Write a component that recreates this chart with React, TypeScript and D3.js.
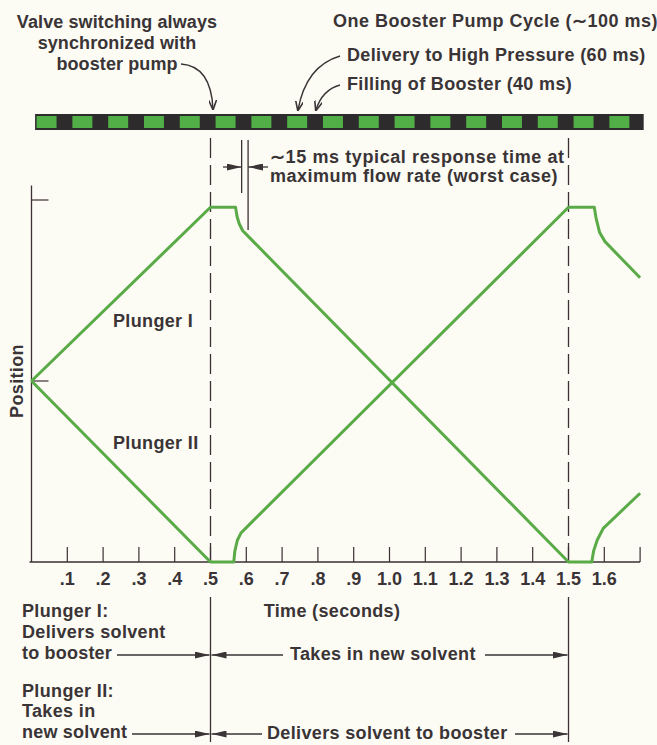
import * as d3 from 'd3'

// Time axis (seconds)
const TIME_TICKS = [0.1, 0.2, 0.3, 0.4, 0.5, 0.6, 0.7, 0.8, 0.9, 1.0, 1.1, 1.2, 1.3, 1.4, 1.5, 1.6, 1.7]
const TICK_LABELS = ['.1', '.2', '.3', '.4', '.5', '.6', '.7', '.8', '.9', '1.0', '1.1', '1.2', '1.3', '1.4', '1.5', '1.6', '']
const POS_TICKS = [0.5, 1.0]

// Plunger positions [time, relative position]
const PLUNGER_I: [number, number][] = [
  [0, 0.5], [0.5, 0.98], [0.57, 0.98], [0.574, 0.955], [0.58, 0.935], [0.59, 0.915], [0.6, 0.905],
  [1.5, 0], [1.565, 0], [1.57, 0.03], [1.58, 0.06], [1.597, 0.093], [1.7, 0.19],
]
const PLUNGER_II: [number, number][] = [
  [0, 0.5], [0.5, 0], [0.565, 0], [0.568, 0.03], [0.575, 0.06], [0.585, 0.08], [0.6, 0.095],
  [1.5, 0.98], [1.572, 0.98], [1.577, 0.95], [1.587, 0.91], [1.602, 0.885], [1.7, 0.785],
]

const VALVE_SWITCH = [0.5, 1.5]
const RESPONSE_MARKS = [0.587, 0.605]

// Booster pump cycle strip
const BAR_START = 0.01
const CYCLE = 0.1
const DELIVERY = 0.06
const N_CYCLES = 17

const W = 657
const H = 745
const INK = '#3a3436'
const AXIS = '#3b2f33'
const GREEN = '#5aab47'
const BAR_GREEN = '#52ae46'
const BAR_DARK = '#2d2b2c'
const FONT = '"Liberation Sans", Arial, Helvetica, sans-serif'

const x = d3.scaleLinear().domain([0, 1.7]).range([31.5, 31.5 + 1.7 * 358])
const y = d3.scaleLinear().domain([0, 1]).range([562, 200])

const line = d3.line<[number, number]>().x(d => x(d[0])).y(d => y(d[1]))

function T({ x: tx, y: ty, children, anchor = 'start', ls = 0.35 }: { x: number; y: number; children: any; anchor?: string; ls?: number }) {
  return (
    <text x={tx} y={ty} textAnchor={anchor as any} fontFamily={FONT} fontWeight={700} fontSize={18}
      letterSpacing={ls} fill={INK}>
      {children}
    </text>
  )
}

export default function App() {
  const bars = d3.range(N_CYCLES).map(i => BAR_START + i * CYCLE)
  const x0 = x(0.5)
  const x1 = x(1.5)
  return (
    <svg width={W} height={H} style={{ position: 'absolute', left: 0, top: 0, background: '#fcfcf5' }}>
      <defs>
        <marker id="ah" viewBox="0 0 15 7" refX={15} refY={3.5} markerWidth={15} markerHeight={7}
          orient="auto" markerUnits="userSpaceOnUse">
          <path d="M0,0 L15,3.5 L0,7 z" fill={INK} />
        </marker>
        <marker id="ahs" viewBox="0 0 10 8" refX={9} refY={4} markerWidth={10} markerHeight={8}
          orient="auto" markerUnits="userSpaceOnUse">
          <path d="M0,0 L10,4 L0,8" fill="none" stroke={INK} strokeWidth={1.6} />
        </marker>
      </defs>
      <rect width={W} height={H} fill="#fcfcf5" />

      {/* top annotations */}
      <T x={117} y={28} anchor="middle" ls={0.1}>Valve switching always</T>
      <T x={117} y={49} anchor="middle" ls={0.1}>synchronized with</T>
      <T x={117} y={70} anchor="middle" ls={0.1}>booster pump</T>
      <path d="M181,64 Q211,66 213,109" fill="none" stroke={INK} strokeWidth={1.4} markerEnd="url(#ahs)" />

      <T x={333} y={27} ls={0.5}>One Booster Pump Cycle (∼100 ms)</T>
      <T x={347} y={61}>Delivery to High Pressure (60 ms)</T>
      <T x={347} y={90}>Filling of Booster (40 ms)</T>
      <path d="M340,56 Q306,66 298,110" fill="none" stroke={INK} strokeWidth={1.4} markerEnd="url(#ahs)" />
      <path d="M340,85 Q322,90 316,110" fill="none" stroke={INK} strokeWidth={1.4} markerEnd="url(#ahs)" />

      {/* booster cycle strip */}
      <rect x={x(BAR_START)} y={114} width={x(BAR_START + N_CYCLES * CYCLE) - x(BAR_START)} height={16} fill={BAR_DARK} />
      {bars.map((b, i) => (
        <rect key={i} x={x(b) + 1.5} y={116} width={x(b + DELIVERY) - x(b) - 1.5} height={12} fill={BAR_GREEN} />
      ))}

      {/* response time marks */}
      <line x1={x(RESPONSE_MARKS[0])} x2={x(RESPONSE_MARKS[0])} y1={140} y2={193} stroke={AXIS} strokeWidth={1.3} />
      <line x1={x(RESPONSE_MARKS[1])} x2={x(RESPONSE_MARKS[1])} y1={140} y2={230} stroke={AXIS} strokeWidth={1.3} />
      <line x1={223} x2={x(RESPONSE_MARKS[0])} y1={167} y2={167} stroke={INK} strokeWidth={1.3} markerEnd="url(#ah)" />
      <line x1={268} x2={x(RESPONSE_MARKS[1])} y1={167} y2={167} stroke={INK} strokeWidth={1.3} markerEnd="url(#ah)" />
      <T x={270} y={163} ls={0.6}>∼15 ms typical response time at</T>
      <T x={270} y={182} ls={0.5}>maximum flow rate (worst case)</T>

      {/* valve switching dashed lines */}
      {VALVE_SWITCH.map(v => (
        <line key={v} x1={x(v)} x2={x(v)} y1={138} y2={y(0)} stroke={AXIS} strokeWidth={1.3} strokeDasharray="20,7" />
      ))}

      {/* axes */}
      <line x1={x(0)} x2={x(0)} y1={y(1.04)} y2={y(0)} stroke={AXIS} strokeWidth={1.3} />
      {POS_TICKS.map(p => (
        <line key={p} x1={x(0)} x2={x(0) + 17} y1={y(p)} y2={y(p)} stroke={AXIS} strokeWidth={1.2} />
      ))}
      <line x1={x(0) - 2} x2={x(1.7)} y1={y(0)} y2={y(0)} stroke={AXIS} strokeWidth={1.4} />
      {TIME_TICKS.map((t, i) => (
        <g key={t}>
          <line x1={x(t)} x2={x(t)} y1={y(0)} y2={y(0) - 15} stroke={AXIS} strokeWidth={1.2} />
          <T x={x(t)} y={585} anchor="middle" ls={0}>{TICK_LABELS[i]}</T>
        </g>
      ))}
      <T x={332} y={617} anchor="middle">Time (seconds)</T>
      <text transform={`translate(23,381) rotate(-90)`} textAnchor="middle" fontFamily={FONT} fontWeight={700} fontSize={18}
        letterSpacing={0.35} fill={INK}>
        Position
      </text>

      {/* plunger traces */}
      <path d={line(PLUNGER_I) ?? ''} fill="none" stroke={GREEN} strokeWidth={3} strokeLinejoin="round" />
      <path d={line(PLUNGER_II) ?? ''} fill="none" stroke={GREEN} strokeWidth={3} strokeLinejoin="round" />
      <T x={113} y={327}>Plunger I</T>
      <T x={113} y={449}>Plunger II</T>

      {/* bottom phase annotations */}
      {VALVE_SWITCH.map(v => (
        <line key={v} x1={x(v)} x2={x(v)} y1={597} y2={742} stroke={AXIS} strokeWidth={1.3} />
      ))}
      <T x={22} y={617}>Plunger I:</T>
      <T x={22} y={638}>Delivers solvent</T>
      <T x={22} y={659} ls={0.2}>to booster</T>
      <line x1={117} x2={x0 - 1} y1={655} y2={655} stroke={INK} strokeWidth={1.3} markerEnd="url(#ah)" />
      <line x1={283} x2={x0 + 1} y1={655} y2={655} stroke={INK} strokeWidth={1.3} markerEnd="url(#ah)" />
      <T x={290} y={660}>Takes in new solvent</T>
      <line x1={485} x2={x1 - 1} y1={655} y2={655} stroke={INK} strokeWidth={1.3} markerEnd="url(#ah)" />

      <T x={22} y={697}>Plunger II:</T>
      <T x={22} y={717}>Takes in</T>
      <T x={22} y={738} ls={0.2}>new solvent</T>
      <line x1={132} x2={x0 - 1} y1={734} y2={734} stroke={INK} strokeWidth={1.3} markerEnd="url(#ah)" />
      <line x1={262} x2={x0 + 1} y1={734} y2={734} stroke={INK} strokeWidth={1.3} markerEnd="url(#ah)" />
      <T x={267} y={739}>Delivers solvent to booster</T>
      <line x1={515} x2={x1 - 1} y1={734} y2={734} stroke={INK} strokeWidth={1.3} markerEnd="url(#ah)" />
    </svg>
  )
}
